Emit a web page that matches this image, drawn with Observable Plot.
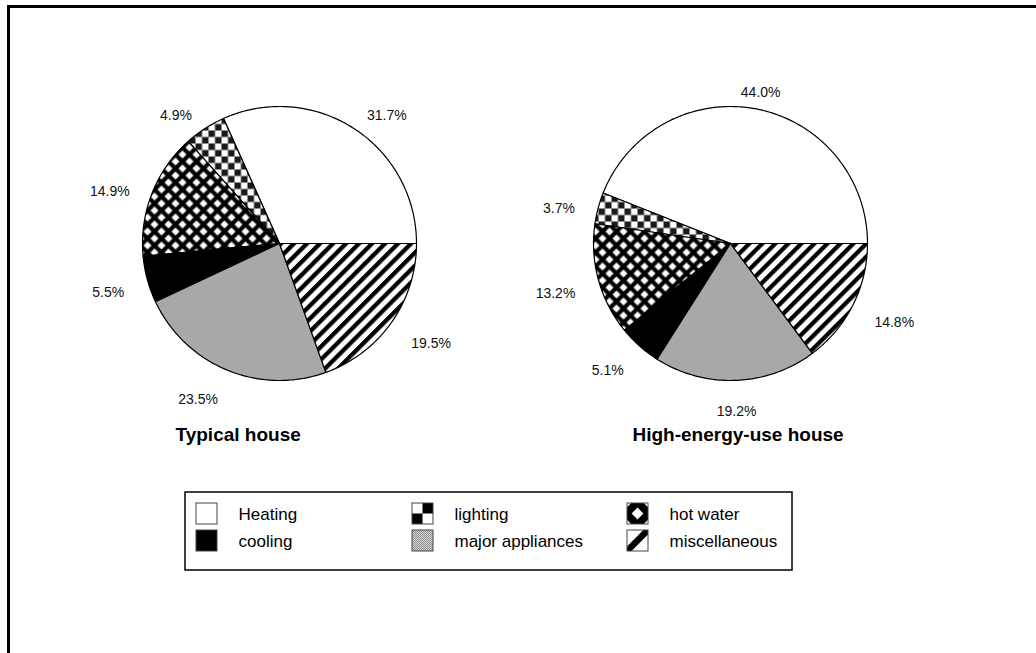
<!DOCTYPE html>
<html>
<head>
<meta charset="utf-8">
<script src="https://cdn.jsdelivr.net/npm/d3@7"></script>
<script src="https://cdn.jsdelivr.net/npm/@observablehq/plot@0.6"></script>
<style>
  html, body { margin: 0; padding: 0; background: #fff; }
  svg { display: block; }
</style>
</head>
<body>
<div id="chart"></div>
<script>
// ---- data ----
const categories = ["Heating", "lighting", "hot water", "cooling", "major appliances", "miscellaneous"];
const typicalValues = [31.7, 4.9, 14.9, 5.5, 23.5, 19.5];
const highEnergyValues = [44.0, 3.7, 13.2, 5.1, 19.2, 14.8];
const pieTitles = ["Typical house", "High-energy-use house"];
const legendRows = [["Heating", "lighting", "hot water"], ["cooling", "major appliances", "miscellaneous"]];

// ---- layout ----
const W = 1036, H = 653;
const pies = [
  {name: pieTitles[0], values: typicalValues, cx: 279, cy: 243, r: 137, titleX: 175},
  {name: pieTitles[1], values: highEnergyValues, cx: 730, cy: 243, r: 137, titleX: 632}
];
const patId = c => "pat-" + categories.indexOf(c);
const legId = c => "leg-" + categories.indexOf(c);

// slice polygons and labels
const slicePoints = [];
const labels = [];
pies.forEach((p, pi) => {
  let acc = 0;
  p.values.forEach((v, i) => {
    const a0 = acc / 100 * 2 * Math.PI, a1 = (acc + v) / 100 * 2 * Math.PI;
    acc += v;
    const n = Math.max(2, Math.ceil((a1 - a0) * 180 / Math.PI));
    const id = pi + "-" + i;
    slicePoints.push({id, cat: categories[i], x: p.cx, y: p.cy});
    for (let k = 0; k <= n; k++) {
      const a = a0 + (a1 - a0) * k / n;
      slicePoints.push({id, cat: categories[i], x: p.cx + p.r * Math.cos(a), y: p.cy - p.r * Math.sin(a)});
    }
    slicePoints.push({id, cat: categories[i], x: p.cx, y: p.cy});
    const am = (a0 + a1) / 2, lr = p.r + 24;
    const c = Math.cos(am);
    labels.push({
      x: p.cx + lr * c, y: p.cy - lr * Math.sin(am) + 7,
      text: v.toFixed(1) + "%",
      anchor: c > 0.3 ? "start" : c < -0.3 ? "end" : "middle"
    });
  });
});

// legend items
const legendItems = [];
const colX = [196, 412, 627], rowY = [503, 530], sw = 21;
legendRows.forEach((row, ri) => row.forEach((c, ci) => {
  legendItems.push({cat: c, x1: colX[ci], x2: colX[ci] + sw, y1: rowY[ri], y2: rowY[ri] + sw, tx: colX[ci] + 42, ty: rowY[ri] + 11});
}));

const marks = [
  Plot.ruleY([6], {x1: 7, x2: W, stroke: "#000", strokeWidth: 3}),
  Plot.ruleX([8], {y1: 5, y2: H, stroke: "#000", strokeWidth: 3})
];
categories.forEach(c => {
  marks.push(Plot.line(slicePoints.filter(d => d.cat === c), {
    x: "x", y: "y", z: "id", fill: `url(#${patId(c)})`, stroke: "#000", strokeWidth: 1.2, curve: "linear"
  }));
});
["start", "middle", "end"].forEach(anc => {
  marks.push(Plot.text(labels.filter(d => d.anchor === anc), {
    x: "x", y: "y", text: "text", textAnchor: anc, fontSize: 14, fill: "#111"
  }));
});
marks.push(Plot.text(pies, {x: "titleX", y: () => 434, text: "name", textAnchor: "start", fontSize: 19, fontWeight: "bold", fill: "#000"}));
// legend
marks.push(Plot.rect([0], {x1: 185, x2: 792, y1: 492, y2: 570, fill: "#fff", stroke: "#000", strokeWidth: 1.5}));
categories.forEach(c => {
  marks.push(Plot.rect(legendItems.filter(d => d.cat === c), {
    x1: "x1", x2: "x2", y1: "y1", y2: "y2", fill: `url(#${legId(c)})`, stroke: "#444", strokeWidth: 1
  }));
});
marks.push(Plot.text(legendItems, {x: "tx", y: "ty", text: "cat", textAnchor: "start", fontSize: 17, fill: "#000"}));

const svg = Plot.plot({
  width: W, height: H,
  margin: 0,
  x: {domain: [0, W], range: [0, W], axis: null},
  y: {domain: [0, H], range: [0, H], axis: null},
  style: {fontFamily: "'Liberation Sans', Arial, Helvetica, sans-serif", background: "#fff", overflow: "visible"},
  marks
});

// patterns
const defs = d3.select(svg).insert("defs", ":first-child");
// Heating: white
defs.append("pattern").attr("id", patId("Heating")).attr("patternUnits", "userSpaceOnUse").attr("width", 4).attr("height", 4)
  .append("rect").attr("width", 4).attr("height", 4).attr("fill", "#fff");
// cooling: black
defs.append("pattern").attr("id", patId("cooling")).attr("patternUnits", "userSpaceOnUse").attr("width", 4).attr("height", 4)
  .append("rect").attr("width", 4).attr("height", 4).attr("fill", "#000");
// lighting: checkerboard
{
  const p = defs.append("pattern").attr("id", patId("lighting")).attr("patternUnits", "userSpaceOnUse").attr("width", 13).attr("height", 13);
  p.append("rect").attr("width", 13).attr("height", 13).attr("fill", "#fff");
  p.append("rect").attr("x", 0).attr("y", 0).attr("width", 6.5).attr("height", 6.5).attr("fill", "#1a1a1a");
  p.append("rect").attr("x", 6.5).attr("y", 6.5).attr("width", 6.5).attr("height", 6.5).attr("fill", "#1a1a1a");
}
// hot water: black crosshatch with white diamonds
{
  const p = defs.append("pattern").attr("id", patId("hot water")).attr("patternUnits", "userSpaceOnUse").attr("width", 14).attr("height", 14);
  p.append("rect").attr("width", 14).attr("height", 14).attr("fill", "#000");
  p.append("polygon").attr("points", "7,3 11,7 7,11 3,7").attr("fill", "#fff");
  p.append("polygon").attr("points", "0,0 4,0 0,4").attr("fill", "#fff");
  p.append("polygon").attr("points", "14,0 14,4 10,0").attr("fill", "#fff");
  p.append("polygon").attr("points", "0,14 0,10 4,14").attr("fill", "#fff");
  p.append("polygon").attr("points", "14,14 10,14 14,10").attr("fill", "#fff");
}
// major appliances: gray stipple
{
  const p = defs.append("pattern").attr("id", patId("major appliances")).attr("patternUnits", "userSpaceOnUse").attr("width", 2).attr("height", 2);
  p.append("rect").attr("width", 2).attr("height", 2).attr("fill", "#cacaca");
  p.append("rect").attr("width", 1).attr("height", 1).attr("fill", "#858585");
  p.append("rect").attr("x", 1).attr("y", 1).attr("width", 1).attr("height", 1).attr("fill", "#858585");
}
// miscellaneous: "/" stripes
{
  const p = defs.append("pattern").attr("id", patId("miscellaneous")).attr("patternUnits", "userSpaceOnUse")
    .attr("width", 9.2).attr("height", 9.2).attr("patternTransform", "rotate(45)");
  p.append("rect").attr("width", 9.2).attr("height", 9.2).attr("fill", "#fff");
  p.append("rect").attr("width", 4.3).attr("height", 9.2).attr("fill", "#000");
}
// legend swatches
const bb = (id) => defs.append("pattern").attr("id", id).attr("patternUnits", "objectBoundingBox")
  .attr("patternContentUnits", "objectBoundingBox").attr("width", 1).attr("height", 1);
bb(legId("Heating")).append("rect").attr("width", 1).attr("height", 1).attr("fill", "#fff");
bb(legId("cooling")).append("rect").attr("width", 1).attr("height", 1).attr("fill", "#000");
{
  const p = bb(legId("lighting"));
  p.append("rect").attr("width", 1).attr("height", 1).attr("fill", "#fff");
  p.append("rect").attr("x", 0.5).attr("y", 0).attr("width", 0.5).attr("height", 0.5).attr("fill", "#000");
  p.append("rect").attr("x", 0).attr("y", 0.5).attr("width", 0.5).attr("height", 0.5).attr("fill", "#000");
}
{
  const p = bb(legId("hot water"));
  p.append("rect").attr("width", 1).attr("height", 1).attr("fill", "#000");
  p.append("polygon").attr("points", "0.5,0.22 0.78,0.5 0.5,0.78 0.22,0.5").attr("fill", "#fff");
  p.append("polygon").attr("points", "0,0 0.2,0 0,0.2").attr("fill", "#fff");
  p.append("polygon").attr("points", "1,0 1,0.2 0.8,0").attr("fill", "#fff");
  p.append("polygon").attr("points", "0,1 0,0.8 0.2,1").attr("fill", "#fff");
  p.append("polygon").attr("points", "1,1 0.8,1 1,0.8").attr("fill", "#fff");
}
{
  const p = defs.append("pattern").attr("id", legId("major appliances")).attr("patternUnits", "userSpaceOnUse").attr("width", 2).attr("height", 2);
  p.append("rect").attr("width", 2).attr("height", 2).attr("fill", "#d4d4d4");
  p.append("rect").attr("width", 1).attr("height", 1).attr("fill", "#909090");
  p.append("rect").attr("x", 1).attr("y", 1).attr("width", 1).attr("height", 1).attr("fill", "#909090");
}
{
  const p = bb(legId("miscellaneous"));
  p.append("rect").attr("width", 1).attr("height", 1).attr("fill", "#fff");
  p.append("polygon").attr("points", "0,0.78 0.78,0 1,0 1,0.22 0.22,1 0,1").attr("fill", "#000");
}

document.getElementById("chart").appendChild(svg);
</script>
</body>
</html>
